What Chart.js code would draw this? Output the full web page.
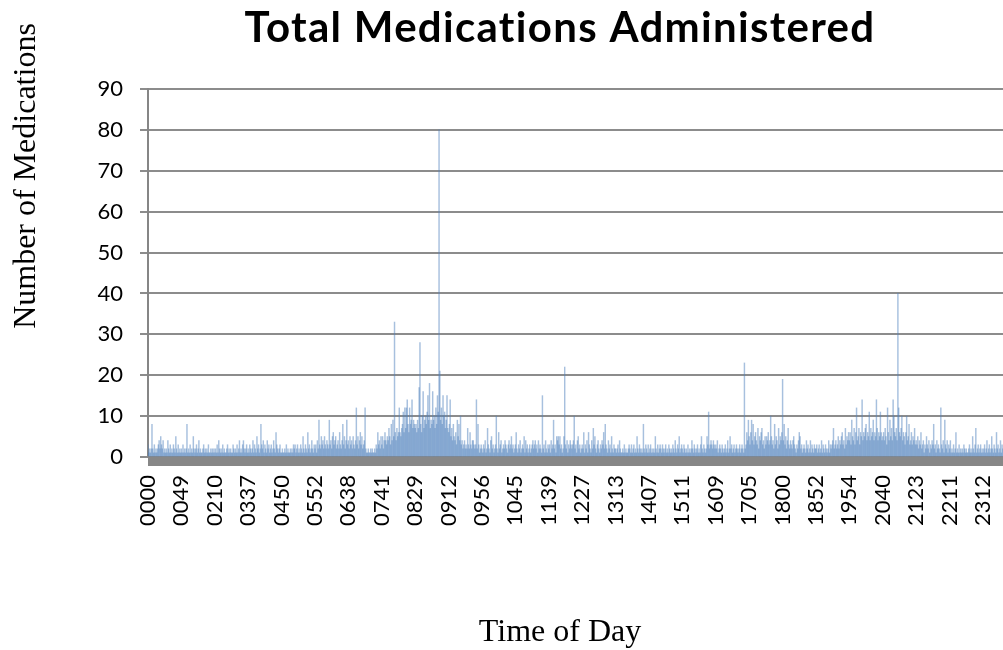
<!DOCTYPE html>
<html>
<head>
<meta charset="utf-8">
<title>Total Medications Administered</title>
<script src="https://cdn.jsdelivr.net/npm/chart.js@4.4.1/dist/chart.umd.min.js"></script>
<style>
    html, body { margin: 0; padding: 0; background: #fff; overflow: hidden; }
    #wrap { position: relative; width: 1120px; height: 650px; }
</style>
</head>
<body>
<div id="wrap"><canvas id="medChart"></canvas></div>
<script>
// tick labels shown on the time axis (one every 42 recorded minutes)
const tickLabels = ['0000', '0049', '0210', '0337', '0450', '0552', '0638', '0741', '0829', '0912', '0956', '1045', '1139',
    '1227', '1313', '1407', '1511', '1609', '1705', '1800', '1852', '1954', '2040', '2123', '2211', '2312'];

// medications per recorded minute, one row per labelled stretch
const countsBySegment = [
    [3,1,2,1,2,8,2,1,3,1,2,1,2,3,4,2,5,3,2,4,1,2,1,2,1,4,2,1,3,1,2,1,3,2,1,5,2,1,3,1,2,1],
    [2,1,3,1,2,1,2,8,1,2,1,3,1,2,1,5,2,1,2,3,1,2,4,1,2,1,1,2,3,1,2,1,2,1,3,1,1,2,1,2,1,2],
    [1,2,1,3,1,4,2,1,2,1,3,1,2,1,1,2,3,1,2,1,2,1,1,3,2,1,2,1,3,1,2,4,1,2,1,3,4,2,1,2,3,1],
    [2,1,3,2,1,2,4,1,3,2,1,5,2,3,1,2,8,3,2,4,1,3,2,1,4,2,3,1,2,3,1,2,4,2,1,6,3,2,1,2,3,1],
    [1,2,1,1,2,1,3,1,2,1,1,2,1,2,1,3,2,3,1,2,3,1,2,1,3,2,1,5,2,1,3,2,1,6,2,3,1,2,4,2,1,3],
    [2,3,1,4,2,9,3,2,5,3,4,2,5,3,2,4,3,2,9,3,4,2,5,6,3,4,5,2,3,4,2,6,3,2,4,8,3,5,2,4,9,3],
    [4,2,5,3,4,2,5,3,2,4,12,3,5,2,4,6,3,5,2,3,4,12,2,1,1,2,1,1,2,1,2,1,1,2,1,3,2,6,3,4,2,5],
    [3,5,2,4,6,4,3,5,4,7,5,3,8,4,9,5,33,6,4,7,5,6,12,6,5,7,8,11,6,12,7,12,14,8,6,12,8,9,14,7,9,8],
    [7,8,6,9,7,17,28,8,6,10,16,7,9,10,8,11,15,9,18,7,9,8,16,9,10,7,12,8,15,11,80,21,9,12,8,15,10,11,7,9,15,7],
    [6,8,14,5,7,4,8,5,4,6,3,9,5,8,4,10,3,4,2,3,4,2,3,2,7,3,2,6,3,2,4,4,3,2,3,14,2,8,3,1,2,3],
    [2,1,3,2,4,1,2,7,3,2,1,4,5,2,3,1,2,3,10,2,1,6,2,3,4,1,2,3,2,4,3,2,1,3,4,2,3,5,2,3,1,2],
    [3,6,2,1,3,2,4,1,2,3,2,5,1,4,2,3,1,2,3,1,2,3,4,2,3,4,2,3,1,4,2,3,2,1,15,2,3,1,4,2,1,3],
    [2,3,1,4,2,3,9,2,3,1,5,4,5,3,5,2,3,1,2,5,22,3,2,4,1,3,2,4,3,2,3,4,10,2,3,1,4,5,2,3,1,2],
    [3,2,6,1,3,2,4,1,6,3,2,1,4,2,7,3,5,2,1,3,4,2,1,3,2,4,3,6,2,8,3,2,1,4,2,3,1,5,2,1,3,2],
    [2,1,2,3,1,4,2,1,1,2,1,3,1,2,1,1,2,3,2,1,3,1,2,3,1,2,1,5,2,1,3,2,1,2,1,8,2,1,3,2,1,3],
    [1,2,3,1,2,1,2,1,5,2,1,3,1,2,3,2,1,3,2,1,2,3,1,2,1,3,2,1,2,1,3,2,1,4,2,1,3,2,5,1,2,3],
    [2,1,3,2,1,2,1,3,1,2,1,2,4,2,1,3,2,1,2,3,1,2,1,3,5,2,1,3,2,1,2,5,3,11,2,3,4,3,2,4,3,2],
    [3,2,4,1,2,3,2,1,3,2,1,2,3,1,2,4,1,2,5,2,3,1,2,3,1,2,3,2,1,2,3,1,2,3,2,1,23,2,3,6,4,9],
    [5,3,6,9,4,8,3,5,6,4,3,7,2,5,4,6,7,3,4,2,5,3,5,4,6,3,4,10,5,3,4,2,8,3,5,4,2,7,3,5,4,6],
    [19,4,8,3,5,2,4,7,3,2,4,3,2,4,5,3,2,1,3,2,4,6,5,2,3,1,2,3,2,1,4,2,3,1,2,4,1,3,2,1,3,2],
    [2,3,1,2,3,1,2,4,1,3,2,1,3,2,1,2,4,1,3,2,3,4,7,2,3,4,2,3,5,2,4,3,5,6,3,4,2,7,3,5,4,6],
    [4,6,3,9,5,4,7,3,6,12,4,5,7,3,6,5,14,4,6,5,7,8,4,6,5,11,4,7,5,6,9,4,6,5,14,7,4,6,5,11,6,4],
    [5,6,4,7,5,3,12,6,4,9,5,7,4,14,10,6,5,7,4,40,12,6,5,7,10,4,6,5,3,6,10,4,5,8,3,4,6,3,5,4,7,3],
    [4,3,5,2,4,3,6,2,3,4,1,3,2,5,3,2,4,1,3,2,4,3,8,2,3,1,4,2,3,2,1,12,3,2,4,1,9,3,2,4,1,3],
    [2,4,1,2,1,3,1,2,6,1,2,1,3,1,2,1,2,1,3,2,1,2,1,1,2,3,1,2,1,5,2,1,3,7,1,2,3,1,2,3,1,2],
    [1,2,3,1,2,4,1,2,3,1,2,5,2,1,3,2,1,6,2,3,1,2,4,1,3,2,1,2,5,1,3,2,1,2,3,1,2,4,1,2]
];

const chartTitle = 'Total Medications Administered';
const yTitle = 'Number of Medications';
const xTitle = 'Time of Day';

// flatten rows into categories + values, label only the first minute of each row
const categories = [];
const counts = [];
countsBySegment.forEach((row, s) => {
    row.forEach((v, k) => {
        categories.push(k === 0 ? tickLabels[s] : '');
        counts.push(v);
    });
});

// grey floor under the plot, chart title and the two axis titles
const floorAndTitles = {
    id: 'floorAndTitles',
    beforeDatasetsDraw(chart) {
        const { ctx, chartArea } = chart;
        ctx.save();
        ctx.fillStyle = '#878787';
        ctx.fillRect(chartArea.left, chartArea.bottom, chartArea.right - chartArea.left, 9);
        ctx.restore();
    },
    afterDraw(chart) {
        const ctx = chart.ctx;
        ctx.save();
        ctx.fillStyle = '#000';
        ctx.textAlign = 'center';
        ctx.textBaseline = 'alphabetic';

        ctx.font = 'bold 42px Lato, "Open Sans", sans-serif';
        ctx.letterSpacing = '1.3px';
        ctx.fillText(chartTitle, 560, 42);
        ctx.letterSpacing = '0px';

        ctx.font = '32px "Liberation Serif", "Times New Roman", serif';
        ctx.fillText(xTitle, 560, 641);
        ctx.translate(35, 176);
        ctx.rotate(-Math.PI / 2);
        ctx.fillText(yTitle, 0, 0);
        ctx.restore();
    }
};

new Chart(document.getElementById('medChart').getContext('2d'), {
    type: 'bar',
    data: {
        labels: categories,
        datasets: [{
            label: 'Medications',
            data: counts,
            backgroundColor: 'rgba(79, 129, 189, 0.5)',
            borderWidth: 0,
            barPercentage: 1,
            categoryPercentage: 1
        }]
    },
    options: {
        responsive: true,
        maintainAspectRatio: false,
        animation: false,
        layout: { padding: { left: 0, right: 106, top: 89, bottom: 0 } },
        plugins: {
            legend: { display: false },
            tooltip: { enabled: false },
            title: { display: false }
        },
        scales: {
            x: {
                offset: false,
                grid: { display: false, drawTicks: false },
                border: { display: false },
                ticks: {
                    autoSkip: false,
                    minRotation: 90,
                    maxRotation: 90,
                    padding: 18,
                    color: '#000',
                    font: { family: 'Lato', size: 22 }
                },
                afterFit: function(scale) { scale.height = 193; }
            },
            y: {
                min: 0,
                max: 90,
                ticks: {
                    stepSize: 10,
                    padding: 17,
                    color: '#000',
                    font: { family: 'Lato', size: 22 }
                },
                grid: { color: '#8c8c8c', lineWidth: 2, tickLength: 8 },
                border: { color: '#868686', width: 2 },
                afterFit: function(scale) { scale.width = 148; }
            }
        }
    },
    plugins: [floorAndTitles]
});
</script>
</body>
</html>
